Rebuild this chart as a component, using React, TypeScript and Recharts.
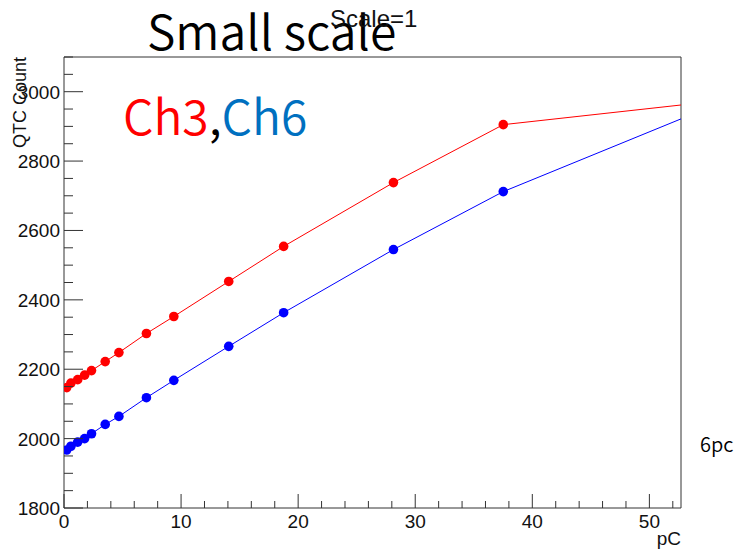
import { LineChart, Line, XAxis, YAxis, ReferenceLine } from "recharts";

// injected charge (pC) and the QTC count read back on each channel
const charge = [0.23, 0.59, 1.17, 1.76, 2.35, 3.52, 4.69, 7.04, 9.38, 14.07, 18.76, 28.14, 37.52, 56.28];
const ch3 = [2147, 2160, 2170, 2183, 2196, 2222, 2248, 2303, 2352, 2453, 2554, 2738, 2905, 2975];
const ch6 = [1967, 1978, 1990, 2000, 2014, 2041, 2064, 2118, 2168, 2266, 2363, 2545, 2712, 2971];

const xTicks = [0, 2, 4, 6, 8, 10, 12, 14, 16, 18, 20, 22, 24, 26, 28, 30, 32, 34, 36, 38, 40, 42, 44, 46, 48, 50, 52];
const yTicks = [
  1800, 1850, 1900, 1950, 2000, 2050, 2100, 2150, 2200, 2250, 2300, 2350, 2400, 2450,
  2500, 2550, 2600, 2650, 2700, 2750, 2800, 2850, 2900, 2950, 3000, 3050, 3100,
];

const X_MAX = 52.7;
const Y_MIN = 1800;
const Y_MAX = 3100;

const data = charge.map((x, i) => ({ x, ch3: ch3[i], ch6: ch6[i] }));

const AXIS = "#333";
const HELV = '"Liberation Sans", Arial, Helvetica, sans-serif';
const JP = '"Noto Sans CJK JP", "Noto Sans", sans-serif';

// ROOT style ticks: drawn inside the frame, labels only on majors
const XTick = ({ x, y, payload }: any) => {
  const v = payload.value;
  const major = v % 10 === 0;
  return (
    <g>
      <line x1={x} y1={y} x2={x} y2={y - (major ? 14 : 7)} stroke={AXIS} strokeWidth={1} />
      {major && (
        <text x={x} y={y + 20} textAnchor="middle" fontFamily={HELV} fontSize={19} fill="#111">
          {v}
        </text>
      )}
    </g>
  );
};

const YTick = ({ x, y, payload }: any) => {
  const v = payload.value;
  const major = v % 200 === 0;
  return (
    <g>
      <line x1={x} y1={y} x2={x + (major ? 19 : 9)} y2={y} stroke={AXIS} strokeWidth={1} />
      {major && (
        <text x={x - 4} y={y + 7} textAnchor="end" fontFamily={HELV} fontSize={19} fill="#111">
          {v}
        </text>
      )}
    </g>
  );
};

export default function App() {
  return (
    <div style={{ position: "absolute", left: 0, top: 0, width: 743, height: 552, background: "#fff" }}>
      <LineChart
        width={743}
        height={552}
        data={data}
        margin={{ top: 57, right: 62, bottom: 14, left: 4 }}
      >
        <XAxis
          dataKey="x"
          type="number"
          domain={[0, X_MAX]}
          allowDataOverflow
          ticks={xTicks}
          interval={0}
          height={30}
          tickLine={false}
          tickSize={0}
          tickMargin={0}
          tick={<XTick />}
          axisLine={{ stroke: AXIS }}
        />
        <YAxis
          type="number"
          domain={[Y_MIN, Y_MAX]}
          allowDataOverflow
          ticks={yTicks}
          interval={0}
          width={60}
          tickLine={false}
          tickSize={0}
          tickMargin={0}
          tick={<YTick />}
          axisLine={{ stroke: AXIS }}
        />
        <ReferenceLine y={Y_MAX} stroke={AXIS} />
        <ReferenceLine x={X_MAX} stroke={AXIS} />
        <Line
          dataKey="ch3"
          stroke="#ff0000"
          strokeWidth={1}
          dot={{ r: 4.8, fill: "#ff0000", stroke: "none" }}
          activeDot={false}
          isAnimationActive={false}
        />
        <Line
          dataKey="ch6"
          stroke="#0000ff"
          strokeWidth={1}
          dot={{ r: 4.8, fill: "#0000ff", stroke: "none" }}
          activeDot={false}
          isAnimationActive={false}
        />
      </LineChart>

      <svg
        width={743}
        height={552}
        style={{ position: "absolute", left: 0, top: 0, pointerEvents: "none" }}
      >
        <text x={147} y={50} fontFamily={JP} fontWeight={350} fontSize={48} fill="#000">
          Small scale
        </text>
        <text x={330} y={27} fontFamily={HELV} fontSize={24} fill="#111">
          Scale=1
        </text>
        <text x={123} y={135} fontFamily={JP} fontWeight={350} fontSize={48}>
          <tspan fill="#ff0000">Ch3</tspan>
          <tspan fill="#000">,</tspan>
          <tspan fill="#0070c0">Ch6</tspan>
        </text>
        <text
          x={26}
          y={57}
          transform="rotate(-90 26 57)"
          textAnchor="end"
          fontFamily={HELV}
          fontSize={18}
          fill="#111"
        >
          QTC Count
        </text>
        <text x={681} y={545} textAnchor="end" fontFamily={HELV} fontSize={19} fill="#111">
          pC
        </text>
        <text x={700} y={452} fontFamily={JP} fontWeight={350} fontSize={20} fill="#000">
          6pc
        </text>
      </svg>
    </div>
  );
}
